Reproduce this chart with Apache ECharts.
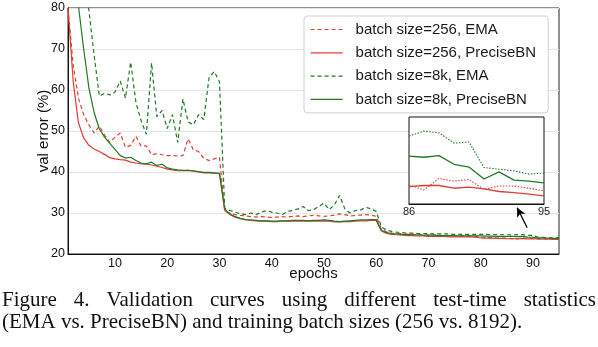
<!DOCTYPE html>
<html><head><meta charset="utf-8">
<script src="https://cdn.jsdelivr.net/npm/echarts@6/dist/echarts.min.js"></script>
<style>html,body{margin:0;padding:0;background:#fff}#c{width:598px;height:347px}</style>
</head><body><div id="c"></div>
<script>
// ---- data ----
const seriesNames = ['batch size=256, EMA', 'batch size=256, PreciseBN', 'batch size=8k, EMA', 'batch size=8k, PreciseBN'];
const xTickLabels = [10, 20, 30, 40, 50, 60, 70, 80, 90];
const insetTickLabels = [86, 95];
const r256ema = [
  80, 66, 58, 54, 51.5, 49.5, 51.2, 49.0, 47.2, 48.5,
  49.5, 46.0, 46.5, 48.7, 46.3, 46.4, 44.2, 44.5, 44.2, 44.0,
  44.0, 43.9, 44.0, 48.1, 45.4, 45.0, 43.3, 42.8, 43.2, 43.6,
  30.5, 29.9, 29.6, 29.4, 29.3, 29.1, 29.0, 29.1, 29.0, 28.9,
  29.0, 29.1, 29.0, 29.2, 29.3, 29.1, 29.3, 29.4, 29.3, 29.2,
  29.3, 29.5, 29.8, 29.6, 29.3, 29.4, 29.5, 29.6, 29.5, 29.2,
  26.0, 25.4, 25.1, 25.0, 24.9, 24.8, 24.8, 24.7, 24.7, 24.6,
  24.6, 24.6, 24.5, 24.5, 24.5, 24.4, 24.4, 24.4, 24.3, 24.1,
  24.0, 24.0, 23.9, 23.9, 23.85, 23.75, 23.66, 23.87, 23.82, 23.85,
  23.67, 23.73, 23.73, 23.69, 23.64];
const r256pbn = [
  80, 62, 52, 48.3, 46.5, 45.6, 45.0, 44.3, 43.5, 43.2,
  43.0, 42.9, 42.4, 42.2, 42.0, 41.9, 41.7, 41.4, 41.1, 40.7,
  40.5, 40.3, 40.3, 40.4, 40.2, 40.0, 39.8, 39.8, 39.7, 39.6,
  30.6, 29.6, 29.0, 28.6, 28.4, 28.2, 28.1, 28.0, 28.0, 27.9,
  27.9, 28.0, 28.0, 28.0, 28.1, 28.0, 28.0, 28.1, 28.0, 28.1,
  28.0, 27.8, 27.8, 27.9, 27.9, 28.0, 28.1, 28.1, 28.2, 28.2,
  25.6, 25.0, 24.8, 24.7, 24.6, 24.5, 24.5, 24.4, 24.4, 24.3,
  24.3, 24.3, 24.3, 24.2, 24.2, 24.2, 24.2, 24.2, 24.1, 23.9,
  23.85, 23.85, 23.8, 23.8, 23.75, 23.72, 23.74, 23.74, 23.69, 23.71,
  23.68, 23.63, 23.61, 23.58, 23.55];
const g8kema = [
  100, 96, 92, 86, 79.5, 68.5, 58.5, 59.2, 58.8, 59.5,
  62.2, 58.0, 66.8, 57.0, 52.5, 49.2, 66.6, 53.5, 55.0, 50.6,
  54.0, 47.2, 57.8, 52.2, 51.5, 54.0, 52.8, 63.0, 64.5, 62.0,
  31.2, 30.6, 30.2, 29.8, 29.6, 30.0, 29.6, 30.2, 30.6, 30.2,
  30.0, 29.6, 30.4, 30.6, 31.0, 31.6, 30.6, 30.8, 31.6, 32.4,
  30.8, 32.0, 34.3, 31.0, 30.0, 30.6, 30.7, 31.4, 31.0, 30.4,
  26.6, 25.8, 25.5, 25.3, 25.2, 25.1, 25.1, 25.0, 25.0, 25.0,
  24.9, 24.9, 24.9, 24.9, 24.8, 24.8, 24.8, 24.8, 24.8, 24.8,
  24.8, 24.75, 24.75, 24.7, 24.7, 24.65, 24.74, 24.71, 24.52, 24.54,
  24.07, 24.04, 24.01, 23.95, 23.97];
const g8kpbn = [
  100, 92, 80.5, 70, 60.5, 54.5, 50.5, 48.5, 47.0, 45.5,
  44.0, 43.4, 43.6, 42.8, 42.2, 42.0, 42.4, 41.6, 41.9, 41.0,
  40.7, 40.5, 40.4, 40.4, 40.3, 40.1, 39.9, 39.9, 39.8, 39.7,
  31.0, 29.8, 29.1, 28.7, 28.4, 28.3, 28.2, 28.1, 28.1, 28.0,
  28.0, 28.1, 28.1, 28.2, 28.2, 28.2, 28.1, 28.2, 28.2, 28.3,
  28.2, 28.0, 27.9, 28.0, 28.1, 28.2, 28.3, 28.3, 28.4, 28.4,
  25.8, 25.2, 25.0, 24.9, 24.8, 24.8, 24.7, 24.7, 24.6, 24.6,
  24.6, 24.5, 24.5, 24.5, 24.5, 24.4, 24.4, 24.4, 24.4, 24.4,
  24.35, 24.35, 24.3, 24.3, 24.3, 24.28, 24.26, 24.29, 24.13, 24.08,
  23.86, 23.99, 23.84, 23.82, 23.79];
const arrowFrom = [88.9, 26.4];
const arrowTo = [87.0, 31.3];
const captionLine1 = ['Figure', '4.', 'Validation', 'curves', 'using', 'different', 'test-time', 'statistics'];
const captionLine2 = '(EMA vs. PreciseBN) and training batch sizes (256 vs. 8192).';

// ---- chart ----
const FONT = '"Liberation Sans", Arial, sans-serif';
const SERIF = '"Liberation Serif", "Times New Roman", serif';
const RED = '#e23c36', GREEN = '#1f7a24';
const epochs = r256ema.map((_, i) => i + 1);
const defs = [
  { name: seriesNames[0], data: r256ema, color: RED, dash: true },
  { name: seriesNames[1], data: r256pbn, color: RED, dash: false },
  { name: seriesNames[2], data: g8kema, color: GREEN, dash: true },
  { name: seriesNames[3], data: g8kpbn, color: GREEN, dash: false }
];
const INSET_START = 85;
const series = [];
defs.forEach((d, k) => {
  const s = {
    type: 'line', name: d.name, xAxisIndex: 0, yAxisIndex: 0,
    data: epochs.map((e, i) => [e, d.data[i]]),
    symbol: 'none', showSymbol: false, clip: true, z: 2 + k * 0.1,
    lineStyle: { color: d.color, width: 1.2, type: d.dash ? [4, 3] : 'solid' },
    itemStyle: { color: d.color }, emphasis: { disabled: true }
  };
  if (k === 3) {
    s.markLine = {
      silent: true, symbol: ['none', 'arrow'], symbolSize: [7, 9], animation: false,
      lineStyle: { color: '#000', width: 1.3, type: 'solid' }, label: { show: false },
      data: [[{ coord: arrowFrom }, { coord: arrowTo }]]
    };
  }
  series.push(s);
});
defs.forEach((d, k) => {
  series.push({
    type: 'line', name: 'inset ' + d.name, xAxisIndex: 1, yAxisIndex: 1,
    data: epochs.slice(INSET_START).map((e, i) => [e, d.data[INSET_START + i]]),
    symbol: 'none', showSymbol: false, clip: true, z: 6,
    lineStyle: { color: d.color, width: d.dash ? 1.1 : 1.3, type: d.dash ? [1.5, 1.5] : 'solid' },
    itemStyle: { color: d.color }, emphasis: { disabled: true }
  });
});

const option = {
  animation: false,
  textStyle: { fontFamily: FONT },
  grid: [
    { left: 68, top: 8, width: 491, height: 246, show: true, borderColor: '#222', borderWidth: 1, z: 0 },
    { left: 409, top: 117, width: 135, height: 87, show: true, backgroundColor: '#fff', borderColor: '#111', borderWidth: 1, z: 5 }
  ],
  legend: {
    data: seriesNames, orient: 'vertical', left: 304, top: 16,
    padding: [6, 12, 6, 6], itemWidth: 32, itemHeight: 14, itemGap: 8.3,
    backgroundColor: '#fff', borderColor: '#d0d0d0', borderWidth: 1, borderRadius: 3,
    itemStyle: { opacity: 0 },
    lineStyle: { width: 1.2 },
    textStyle: { fontSize: 15, color: '#1a1a1a', fontFamily: FONT, padding: [0, 0, 0, 8] },
    z: 10
  },
  xAxis: [
    {
      type: 'value', gridIndex: 0, min: 1, max: 95,
      name: 'epochs', nameLocation: 'middle', nameGap: 12, nameMoveOverlap: false,
      nameTextStyle: { fontSize: 15, color: '#111', fontFamily: FONT },
      axisLine: { lineStyle: { color: '#111', width: 1 } },
      axisTick: { show: false }, splitLine: { show: false },
      axisLabel: { customValues: xTickLabels, fontSize: 12.5, color: '#111', margin: 3 }
    },
    {
      type: 'value', gridIndex: 1, min: 86, max: 95, z: 6,
      axisLine: { lineStyle: { color: '#111', width: 1 } },
      axisTick: { show: false }, splitLine: { show: false },
      axisLabel: { customValues: insetTickLabels, fontSize: 11, color: '#222', margin: 2 }
    }
  ],
  yAxis: [
    {
      type: 'value', gridIndex: 0, min: 20, max: 80, interval: 10,
      name: 'val error (%)', nameLocation: 'middle', nameGap: 17, nameMoveOverlap: false,
      nameTextStyle: { fontSize: 15, color: '#111', fontFamily: FONT },
      axisLine: { show: true, lineStyle: { color: '#111', width: 1 } },
      axisTick: { show: false },
      splitLine: { show: true, lineStyle: { color: '#e4e4e4', width: 1 } },
      axisLabel: { fontSize: 12.5, color: '#111', margin: 3 }
    },
    {
      type: 'value', gridIndex: 1, min: 23.4, max: 25.0, z: 6,
      axisLine: { show: false }, axisTick: { show: false },
      splitLine: { show: false }, axisLabel: { show: false }
    }
  ],
  series: series,
  graphic: []
};

const chart = echarts.init(document.getElementById('c'), null, { renderer: 'canvas' });
chart.setOption(option);

// caption (line 1 justified across the width, word by word)
const L = 2, R = 596;
const fontCap = '21px ' + SERIF;
const ctx = document.createElement('canvas').getContext('2d');
ctx.font = fontCap;
const widths = captionLine1.map(w => ctx.measureText(w).width);
const total = widths.reduce((a, b) => a + b, 0);
const gap = (R - L - total) / (captionLine1.length - 1);
const g = [];
let x = L;
captionLine1.forEach((w, i) => {
  g.push({ type: 'text', x: x, y: 300, style: { text: w, font: fontCap, fill: '#111', textAlign: 'left', textVerticalAlign: 'middle' } });
  x += widths[i] + gap;
});
g.push({ type: 'text', x: L, y: 322, style: { text: captionLine2, font: fontCap, fill: '#111', textAlign: 'left', textVerticalAlign: 'middle' } });
chart.setOption({ graphic: g });
</script>
</body></html>
